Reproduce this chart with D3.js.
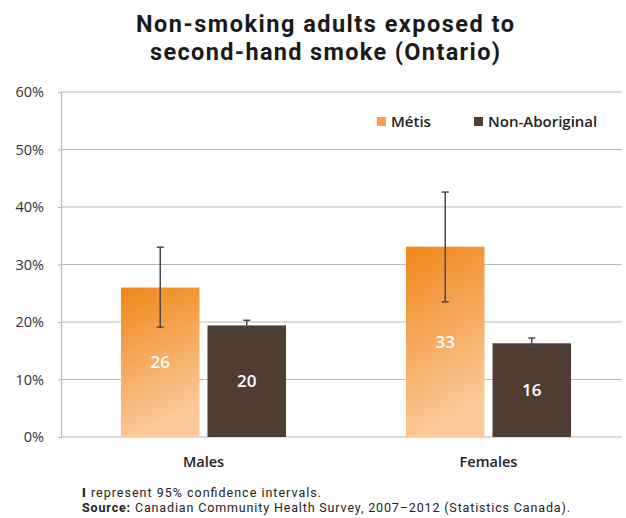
<!DOCTYPE html>
<html><head><meta charset="utf-8">
<script src="https://cdn.jsdelivr.net/npm/d3@7"></script>
<style>
body{margin:0;background:#fff;}
svg{display:block;font-family:"Open Sans",Lato,sans-serif;}
</style></head>
<body><svg id="c" width="626" height="518"></svg>
<script>
const categories = ["Males", "Females"];
const seriesNames = ["Métis", "Non-Aboriginal"];
const metisValues = [26.0, 33.1];
const nonAbValues = [19.4, 16.3];
const metisLow = [19.1, 23.5];
const metisHigh = [33.0, 42.6];
const nonAbLow = [18.9, 15.7];
const nonAbHigh = [20.3, 17.2];
const labelValues = [["26", "20"], ["33", "16"]];
const yTicks = [0, 10, 20, 30, 40, 50, 60];
const titleLines = ["Non-smoking adults exposed to", "second-hand smoke (Ontario)"];

const svg = d3.select("#c");
const plotLeft = 61, plotRight = 622, plotTop = 92, plotBottom = 437;

const y = d3.scaleLinear().domain([0, 60]).range([plotBottom, plotTop]);
const x0 = d3.scaleBand().domain(categories).range([plotLeft, 631]).paddingInner(0.421).paddingOuter(0.2105);
const x1 = d3.scaleBand().domain(seriesNames).range([0, x0.bandwidth()]).paddingInner(0.0925);

const defs = svg.append("defs");
const g = defs.append("linearGradient").attr("id", "og").attr("x1", 0).attr("y1", 0).attr("x2", 0.25).attr("y2", 1);
g.append("stop").attr("offset", "0%").attr("stop-color", "#f08719");
g.append("stop").attr("offset", "100%").attr("stop-color", "#fbca9c");
const fills = {"Métis": "url(#og)", "Non-Aboriginal": "#4f3d34"};

// title
const titleWidths = [378, 350];
svg.append("g").selectAll("text").data(titleLines).join("text")
  .attr("x", 325).attr("y", (d, i) => 32 + i * 28)
  .attr("text-anchor", "middle").attr("font-size", 23.5).attr("font-weight", 700)
  .attr("font-family", "Roboto, sans-serif")
  .attr("textLength", (d, i) => titleWidths[i]).attr("lengthAdjust", "spacing")
  .attr("fill", "#1a1a1a").text(d => d);

// gridlines
svg.append("g").selectAll("line").data(yTicks).join("line")
  .attr("x1", plotLeft).attr("x2", plotRight)
  .attr("y1", d => y(d)).attr("y2", d => y(d))
  .attr("stroke", "#b8b8b8").attr("stroke-width", 1.2);

// y axis
const ya = svg.append("g").attr("transform", `translate(${plotLeft},0)`)
  .call(d3.axisLeft(y).tickValues(yTicks).tickFormat(d => d + "%").tickSize(3).tickPadding(14));
ya.select(".domain").attr("stroke", "#b8b8b8").attr("stroke-width", 1.2);
ya.selectAll(".tick line").attr("stroke", "#b8b8b8");
ya.selectAll("text").attr("font-size", 14.5).attr("fill", "#333").attr("font-family", "Open Sans, sans-serif");

// x labels
svg.append("g").selectAll("text").data(categories).join("text")
  .attr("x", d => x0(d) + x0.bandwidth() / 2).attr("y", 467)
  .attr("text-anchor", "middle").attr("font-size", 14.5).attr("font-weight", 600)
  .attr("fill", "#222").text(d => d);

// bars
const data = categories.map((c, i) => ({
  cat: c,
  vals: [
    {s: seriesNames[0], v: metisValues[i], lo: metisLow[i], hi: metisHigh[i], lab: labelValues[i][0]},
    {s: seriesNames[1], v: nonAbValues[i], lo: nonAbLow[i], hi: nonAbHigh[i], lab: labelValues[i][1]}
  ]
}));
const groups = svg.append("g").selectAll("g").data(data).join("g")
  .attr("transform", d => `translate(${x0(d.cat)},0)`);
groups.selectAll("rect").data(d => d.vals).join("rect")
  .attr("x", d => x1(d.s)).attr("width", x1.bandwidth())
  .attr("y", d => y(d.v)).attr("height", d => y(0) - y(d.v))
  .attr("fill", d => fills[d.s]);
groups.selectAll("text.val").data(d => d.vals).join("text").attr("class", "val")
  .attr("x", d => x1(d.s) + x1.bandwidth() / 2)
  .attr("y", d => (y(d.v) + y(0)) / 2 + 6)
  .attr("text-anchor", "middle").attr("font-size", 17).attr("font-weight", 600)
  .attr("fill", "#fff").text(d => d.lab);
// error bars
const eb = groups.selectAll("g.eb").data(d => d.vals).join("g").attr("class", "eb")
  .attr("stroke", "#4a4a4a").attr("stroke-width", 1.5);
eb.append("line").attr("x1", d => x1(d.s) + x1.bandwidth() / 2).attr("x2", d => x1(d.s) + x1.bandwidth() / 2)
  .attr("y1", d => y(d.hi)).attr("y2", d => y(d.lo));
eb.append("line").attr("x1", d => x1(d.s) + x1.bandwidth() / 2 - 3.5).attr("x2", d => x1(d.s) + x1.bandwidth() / 2 + 3.5)
  .attr("y1", d => y(d.hi)).attr("y2", d => y(d.hi));
eb.append("line").attr("x1", d => x1(d.s) + x1.bandwidth() / 2 - 3.5).attr("x2", d => x1(d.s) + x1.bandwidth() / 2 + 3.5)
  .attr("y1", d => y(d.lo)).attr("y2", d => y(d.lo));

// legend
const legX = [377, 474];
const leg = svg.append("g").selectAll("g").data(seriesNames).join("g")
  .attr("transform", (d, i) => `translate(${legX[i]},117)`);
leg.append("rect").attr("width", 9).attr("height", 9).attr("fill", (d, i) => i === 0 ? "#f5a04a" : "#4f3d34");
leg.append("text").attr("x", 14).attr("y", 9.8).attr("font-size", 15).attr("font-weight", 600)
  .attr("fill", "#222").text(d => d);

// footnotes
const foot = svg.append("g").attr("font-size", 12.5).attr("fill", "#222").attr("font-family", "Roboto, sans-serif");
foot.append("text").attr("x", 82).attr("y", 497).attr("textLength", 239).attr("lengthAdjust", "spacing")
  .html('<tspan font-weight="900">I</tspan> represent 95% confidence intervals.');
foot.append("text").attr("x", 82).attr("y", 512).attr("textLength", 488).attr("lengthAdjust", "spacing")
  .html('<tspan font-weight="700">Source:</tspan> Canadian Community Health Survey, 2007–2012 (Statistics Canada).');
</script></body></html>
